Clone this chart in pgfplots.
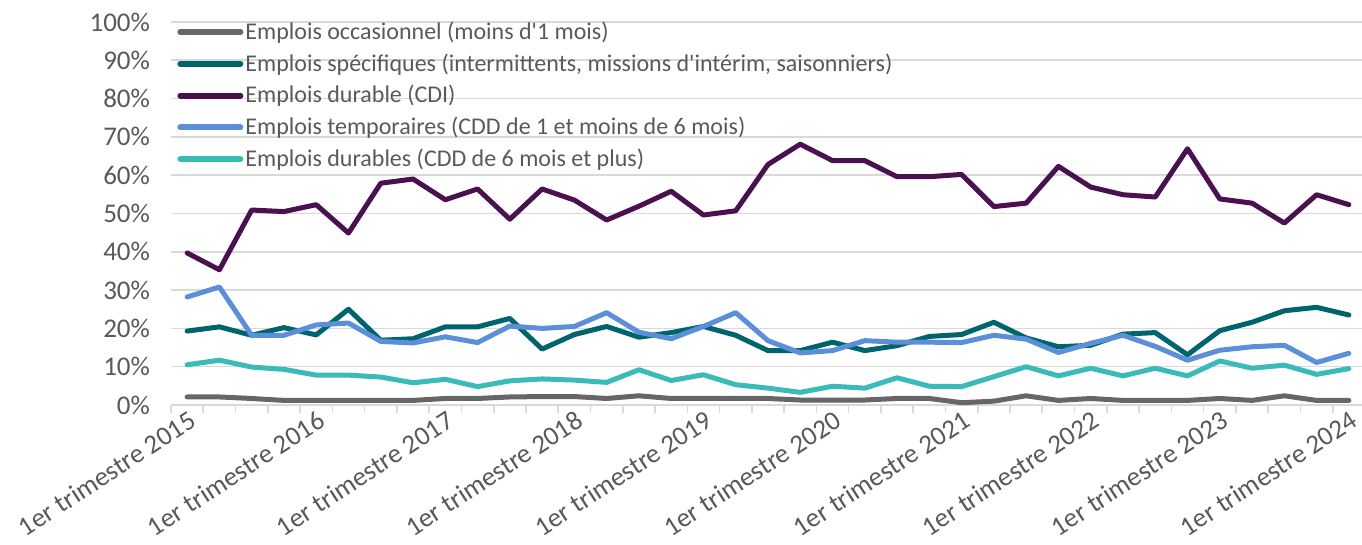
\documentclass[border=0pt]{standalone}
\usepackage{pgfplots}
\usepackage{pgfplotstable}
\pgfplotsset{compat=1.18}
\usepackage{fontspec}
\setmainfont{Carlito}[Ligatures=TeXOff]
\definecolor{cgray}{HTML}{666666}
\definecolor{cteal}{HTML}{00646E}
\definecolor{cpurple}{HTML}{4A1050}
\definecolor{cblue}{HTML}{5B8FD8}
\definecolor{ccyan}{HTML}{3BBBB8}
\definecolor{ctext}{HTML}{595959}
\definecolor{cgrid}{HTML}{D9D9D9}
\pgfplotstableread{
x occ spe cdi tem dur
0 2.1 19.3 39.7 28.2 10.5
1 2.1 20.4 35.3 30.8 11.7
2 1.7 18.2 50.9 18.2 9.9
3 1.2 20.2 50.5 18.2 9.3
4 1.2 18.3 52.3 20.9 7.8
5 1.2 25.0 44.9 21.4 7.8
6 1.2 16.9 57.9 16.6 7.3
7 1.2 17.3 59.0 16.2 5.8
8 1.7 20.4 53.6 17.8 6.7
9 1.7 20.4 56.4 16.3 4.8
10 2.1 22.6 48.5 20.6 6.3
11 2.2 14.6 56.4 20.0 6.8
12 2.2 18.4 53.5 20.5 6.5
13 1.7 20.5 48.3 24.1 5.9
14 2.4 17.7 51.9 19.0 9.2
15 1.7 18.9 55.8 17.3 6.4
16 1.7 20.5 49.6 20.5 7.9
17 1.7 18.2 50.7 24.1 5.3
18 1.7 14.2 62.8 16.8 4.4
19 1.3 14.2 68.1 13.6 3.3
20 1.3 16.4 63.8 14.2 4.9
21 1.3 14.2 63.8 16.8 4.4
22 1.7 15.5 59.6 16.4 7.1
23 1.7 17.9 59.6 16.4 4.9
24 0.6 18.4 60.2 16.3 4.8
25 1.0 21.6 51.8 18.2 7.4
26 2.4 17.5 52.7 17.2 10.0
27 1.2 15.2 62.3 13.7 7.6
28 1.7 15.6 56.9 16.1 9.6
29 1.2 18.5 54.9 18.2 7.6
30 1.2 18.9 54.3 15.3 9.6
31 1.2 13.1 66.9 11.7 7.6
32 1.7 19.4 53.8 14.3 11.5
33 1.2 21.6 52.7 15.2 9.6
34 2.4 24.6 47.5 15.6 10.4
35 1.2 25.5 54.9 11.1 8.0
36 1.2 23.5 52.3 13.5 9.5
}\datatable
\begin{document}
\begin{tikzpicture}
\begin{axis}[
  scale only axis,
  width=597pt, height=191.5pt,
  xmin=-0.5, xmax=36.5,
  ymin=0, ymax=100,
  axis x line*=bottom,
  axis y line*=left,
  y axis line style={draw=none},
  x axis line style={cgrid, line width=0.8pt, -},
  ymajorgrids,
  grid style={cgrid, line width=0.8pt},
  ytick={0,10,...,100},
  yticklabels={0\%,10\%,20\%,30\%,40\%,50\%,60\%,70\%,80\%,90\%,100\%},
  yticklabel style={font=\fontsize{13.5}{16}\selectfont, text=ctext, xshift=-7pt},
  major y tick style={draw=none},
  xtick={0,4,...,36},
  xticklabels={1er trimestre 2015,1er trimestre 2016,1er trimestre 2017,1er trimestre 2018,1er trimestre 2019,1er trimestre 2020,1er trimestre 2021,1er trimestre 2022,1er trimestre 2023,1er trimestre 2024},
  xticklabel style={font=\fontsize{13.5}{16}\selectfont, text=ctext, rotate=33, anchor=north east, inner sep=1pt, yshift=-1pt},
  major x tick style={draw=none},
  minor xtick={-0.5,0.5,...,36.5},
  minor x tick style={cgrid, line width=0.8pt},
  tick align=outside,
  minor tick length=4pt,
  major tick length=0pt,
  clip=false,
  legend cell align=left,
  legend style={draw=none, fill=none, at={(rel axis cs:0.005,1.012)}, anchor=north west,
    font=\fontsize{12}{14}\selectfont, text=ctext, row sep=1.6pt, inner xsep=0pt, inner ysep=0pt,
    nodes={inner xsep=1pt}},
  legend image code/.code={\draw[#1, line width=3pt, line cap=round] (0pt,0pt) -- (30pt,0pt);},
  every axis plot/.append style={line width=2.5pt, line join=round, line cap=round, mark=none},
]
\addplot[cgray] table[x=x, y=occ] {\datatable};
\addlegendentry{Emplois occasionnel (moins d'1 mois)}
\addplot[cteal] table[x=x, y=spe] {\datatable};
\addlegendentry{Emplois spécifiques (intermittents, missions d'intérim, saisonniers)}
\addplot[cpurple] table[x=x, y=cdi] {\datatable};
\addlegendentry{Emplois durable (CDI)}
\addplot[cblue] table[x=x, y=tem] {\datatable};
\addlegendentry{Emplois temporaires (CDD de 1 et moins de 6 mois)}
\addplot[ccyan] table[x=x, y=dur] {\datatable};
\addlegendentry{Emplois durables (CDD de 6 mois et plus)}
\end{axis}
\pgfresetboundingbox
\path (-85.5pt,-70pt) rectangle (595.5pt,202.5pt);
\end{tikzpicture}
\end{document}
